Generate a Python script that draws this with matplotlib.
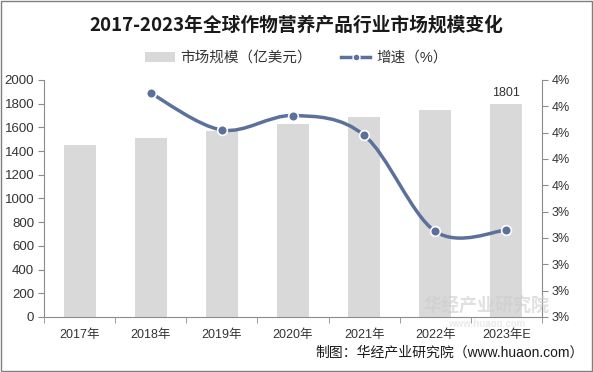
import numpy as np
import matplotlib.pyplot as plt
from matplotlib.path import Path
from matplotlib.patches import PathPatch, Rectangle, Patch
from matplotlib.lines import Line2D

# data
years = ["2017年", "2018年", "2019年", "2020年", "2021年", "2022年", "2023年E"]
market_size = [1451, 1510, 1572, 1629, 1688, 1745, 1801]
growth_years = [1, 2, 3, 4, 5, 6]
growth_rate = [4.30, 4.02, 4.13, 3.98, 3.25, 3.26]
right_ticks = [2.6, 2.8, 3.0, 3.2, 3.4, 3.6, 3.8, 4.0, 4.2, 4.4]

plt.rcParams['font.family'] = ['Liberation Sans', 'Noto Sans CJK SC', 'DejaVu Sans']

BAR = "#d9d9d9"
LINE = "#5b719c"
TXT = "#333333"
SPINE = "#8c8c8c"

fig = plt.figure(figsize=(5.93, 3.72), dpi=100)
fig.patches.append(Rectangle((0.002, 0.003), 0.996, 0.994, transform=fig.transFigure,
                             fill=False, edgecolor="#7f7f7f", linewidth=1))

ax = fig.add_axes([0.0742, 0.148, 0.8398, 0.637])
x = np.arange(len(years))
ax.bar(x, market_size, width=0.45, color=BAR, zorder=1)
ax.text(x[-1], market_size[-1] + 40, str(market_size[-1]), ha="center", va="bottom",
        fontsize=9, color=TXT)

ax.set_xlim(-0.5, len(years) - 0.5)
ax.set_ylim(0, 2000)
ax.set_yticks(range(0, 2001, 200))
ax.set_xticks(x)
ax.set_xticklabels(years)
ax.set_xticks(np.arange(-0.5, len(years), 1), minor=True)
ax.tick_params(axis="x", which="major", length=0, pad=9, labelsize=9, colors=TXT)
ax.tick_params(axis="x", which="minor", length=4, color=SPINE)
ax.tick_params(axis="y", length=4, labelsize=9.5, colors=TXT, color=SPINE, pad=3)
for s in ["top", "right"]:
    ax.spines[s].set_visible(False)
for s in ["left", "bottom"]:
    ax.spines[s].set_color(SPINE)

# growth rate on the right axis, drawn as a smoothed curve like the original
ax2 = ax.twinx()
ax2.set_ylim(right_ticks[0], right_ticks[-1])
ax2.set_yticks(right_ticks)
ax2.set_yticklabels([f"{round(v)}%" for v in right_ticks])
ax2.tick_params(axis="y", length=4, labelsize=9, colors=TXT, color=SPINE, pad=3)
for s in ["top", "left", "bottom"]:
    ax2.spines[s].set_visible(False)
ax2.spines["right"].set_color(SPINE)

pts = np.column_stack([growth_years, growth_rate]).astype(float)
n = len(pts)
verts = [pts[0]]
codes = [Path.MOVETO]
for i in range(n - 1):
    p0 = pts[max(i - 1, 0)]
    p1 = pts[i]
    p2 = pts[i + 1]
    p3 = pts[min(i + 2, n - 1)]
    verts += [p1 + (p2 - p0) / 6, p2 - (p3 - p1) / 6, p2]
    codes += [Path.CURVE4] * 3
ax2.add_patch(PathPatch(Path(verts, codes), fill=False, edgecolor=LINE, linewidth=2.5,
                        zorder=3))
ax2.plot(growth_years, growth_rate, linestyle="none", marker="o", markersize=7,
         markerfacecolor=LINE, markeredgecolor="white", markeredgewidth=1.2, zorder=4)

fig.text(0.5, 0.933, "2017-2023年全球作物营养产品行业市场规模变化", ha="center", va="center",
         fontsize=13.5, fontweight="bold", color="#1a1a1a",
         family=["Noto Sans CJK SC", "DejaVu Sans"])

handles = [Patch(facecolor=BAR, edgecolor="none"),
           Line2D([], [], color=LINE, linewidth=2.5, marker="o", markersize=5,
                  markerfacecolor=LINE, markeredgecolor="white")]
fig.legend(handles, ["市场规模（亿美元）", "增速（%）"], loc="center", bbox_to_anchor=(0.5, 0.844),
           ncol=2, frameon=False, fontsize=10.5, handlelength=2, columnspacing=2.0,
           handletextpad=0.4, labelcolor=TXT)

# faint watermark
fig.text(0.82, 0.175, "华经产业研究院", ha="center", va="center", fontsize=13,
         fontweight="bold", color="#cccccc", alpha=0.6, zorder=0)
fig.text(0.82, 0.128, "www.huaon.com", ha="center", va="center", fontsize=7,
         fontweight="bold", color="#dddddd", alpha=0.6, zorder=0)

fig.text(0.985, 0.052, "制图：华经产业研究院（www.huaon.com）", ha="right", va="center",
         fontsize=10, color="#1a1a1a")

fig.savefig("out.png", dpi=100)
